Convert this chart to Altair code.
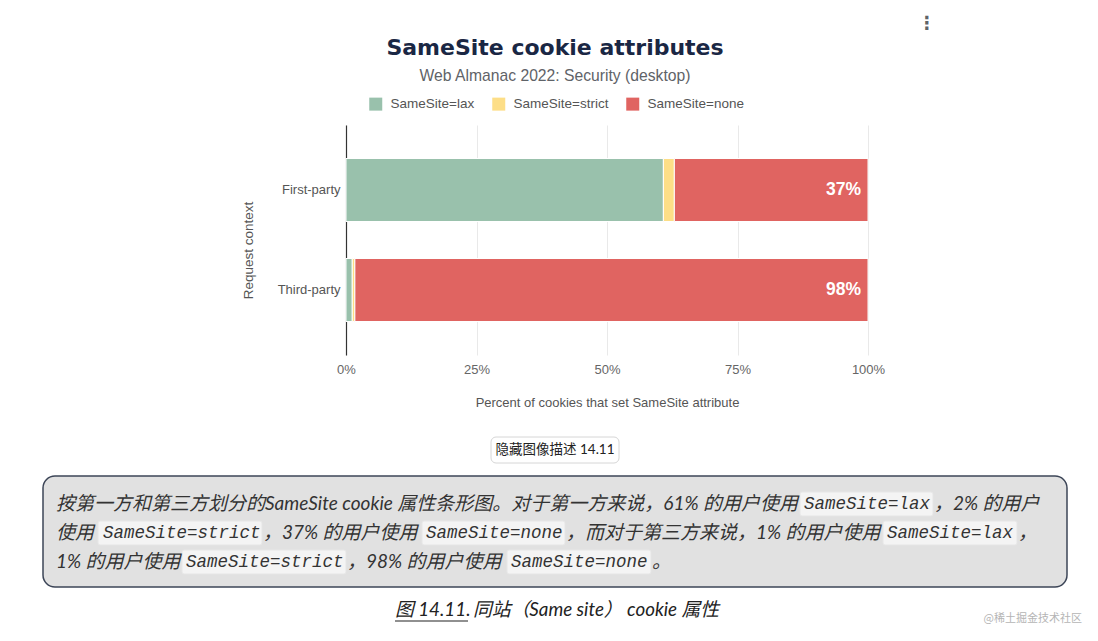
import altair as alt
import pandas as pd

# ---------------- data ----------------
contexts = ["First-party", "Third-party"]
attributes = ["SameSite=lax", "SameSite=strict", "SameSite=none"]
lax = [60.8, 1.2]
strict = [2.1, 0.5]
none = [37.1, 98.3]
bar_labels = ["37%", "98%"]
colors = ["#99C1AC", "#FDDE87", "#E06461"]
x_ticks = [0, 25, 50, 75, 100]

title_text = "SameSite cookie attributes"
subtitle_text = "Web Almanac 2022: Security (desktop)"
x_title = "Percent of cookies that set SameSite attribute"
y_title = "Request context"
button_text = "隐藏图像描述 14.11"
caption_num = "图 14.11."
caption_text = "同站（Same site） cookie 属性"
watermark = "@稀土掘金技术社区"

rows = []
for i, c in enumerate(contexts):
    for j, (a, vals) in enumerate(zip(attributes, [lax, strict, none])):
        rows.append({"context": c, "attribute": a, "value": vals[i], "order": j})
df = pd.DataFrame(rows)
lab_df = pd.DataFrame({
    "context": contexts,
    "end": [lax[i] + strict[i] + none[i] for i in range(len(contexts))],
    "label": bar_labels,
})

# ---------------- layout helpers ----------------
OX, OY = 346, 125  # page position of plot origin
W, H = 522, 230
SANS = "Liberation Sans"
DESC_FONT = "Lato, 'Noto Sans CJK SC'"
MONO = "Liberation Mono"


def txt(s, px, py, **kw):
    return alt.Chart(pd.DataFrame({"t": [s]})).mark_text(**kw).encode(
        x=alt.value(px - OX), y=alt.value(py - OY), text="t:N"
    )


def box(x1, y1, x2, y2, **kw):
    return alt.Chart(pd.DataFrame({"t": [0]})).mark_rect(**kw).encode(
        x=alt.value(x1 - OX), x2=alt.value(x2 - OX),
        y=alt.value(y1 - OY), y2=alt.value(y2 - OY)
    )


# ---------------- main bars ----------------
x_axis = alt.Axis(values=x_ticks, labelExpr="datum.value + '%'", grid=True,
                  gridColor="#e9e9e9", domain=False, ticks=False, labelFlush=False,
                  labelPadding=8, labelFontSize=13, labelColor="#666", labelFont=SANS,
                  titleFont=SANS, titleFontSize=13, titleFontWeight="normal",
                  titleColor="#555", titlePadding=20)
y_axis = alt.Axis(domain=True, domainColor="#333", domainWidth=1.2, ticks=False,
                  labelPadding=6, labelFontSize=13, labelColor="#555", labelFont=SANS,
                  titleFont=SANS, titleFontSize=13.5, titleFontWeight="normal",
                  titleColor="#555", titlePadding=22, titleY=125, grid=False)
x_scale = alt.Scale(domain=[0, 100], nice=False)
y_scale = alt.Scale(paddingInner=0.37, paddingOuter=0.335)

bars = alt.Chart(df).mark_bar(stroke="white", strokeWidth=1).encode(
    x=alt.X("value:Q", stack="zero", scale=x_scale, axis=x_axis, title=x_title),
    y=alt.Y("context:N", sort=contexts, scale=y_scale, axis=y_axis, title=y_title),
    color=alt.Color("attribute:N",
                    scale=alt.Scale(domain=attributes, range=colors),
                    legend=alt.Legend(orient="none", legendX=23, legendY=-28,
                                      direction="horizontal", title=None,
                                      symbolType="square", symbolSize=169,
                                      symbolStrokeWidth=0, labelFontSize=13.5,
                                      labelColor="#555", labelFont=SANS,
                                      labelOffset=8, columnPadding=17, padding=0)),
    order=alt.Order("order:Q"),
)

labels = alt.Chart(lab_df).mark_text(
    align="right", dx=-7, color="white", fontWeight="bold", fontSize=17.5,
    font=SANS, baseline="middle"
).encode(
    x=alt.X("end:Q", scale=x_scale, title=x_title),
    y=alt.Y("context:N", sort=contexts, title=y_title),
    text="label:N",
)

# ---------------- page decorations ----------------
layers = [bars, labels]
layers.append(txt(title_text, 555, 55, font="DejaVu Sans", fontWeight="bold",
                  fontSize=22, color="#1a2744", align="center", baseline="alphabetic"))
layers.append(txt(subtitle_text, 555, 81, font=SANS, fontSize=15.7, color="#5f6368",
                  align="center", baseline="alphabetic"))
layers.append(txt("⋮", 927, 24, font="DejaVu Sans", fontWeight="bold", fontSize=18,
                  color="#5f6368", align="center", baseline="middle"))

# button
layers.append(box(491, 437, 619, 463, fill="white", stroke="#d6d6d6", strokeWidth=1,
                  cornerRadius=5))
layers.append(txt(button_text, 555, 450, font=DESC_FONT, fontSize=13.5, color="#222",
                  align="center", baseline="middle"))

# description box
layers.append(box(43, 476, 1067, 587, fill="#e1e1e1", stroke="#3c4557", strokeWidth=1.5,
                  cornerRadius=12))

code_style = dict(fill="#f4f4f4", stroke="#e6e6e6", strokeWidth=1, cornerRadius=2)
desc_style = dict(font=DESC_FONT, fontStyle="italic", fontSize=19, color="#333",
                  align="left", baseline="middle")
mono_style = dict(font=MONO, fontStyle="italic", fontSize=17.5, color="#333",
                  align="left", baseline="middle")

L1, L2, L3 = 504, 533, 562
code_boxes = [
    (800, 933, L1), (98, 262, L2), (422, 565, L2), (883, 1017, L2),
    (182, 346, L3), (507, 651, L3),
]
for x1, x2, yc in code_boxes:
    layers.append(box(x1, yc - 12, x2, yc + 12, **code_style))

segments = [
    ("按第一方和第三方划分的SameSite cookie 属性条形图。对于第一方来说，61% 的用户使用", 56, L1, False),
    ("SameSite=lax", 804, L1, True),
    ("，2% 的用户", 934, L1, False),
    ("使用", 56, L2, False),
    ("SameSite=strict", 103, L2, True),
    ("，37% 的用户使用", 263, L2, False),
    ("SameSite=none", 426, L2, True),
    ("，而对于第三方来说，1% 的用户使用", 566, L2, False),
    ("SameSite=lax", 887, L2, True),
    ("，", 1018, L2, False),
    ("1% 的用户使用", 56, L3, False),
    ("SameSite=strict", 186, L3, True),
    ("，98% 的用户使用", 347, L3, False),
    ("SameSite=none", 511, L3, True),
    ("。", 652, L3, False),
]
for s, px, py, is_code in segments:
    layers.append(txt(s, px, py, **(mono_style if is_code else desc_style)))

# caption
cap_style = dict(font=DESC_FONT, fontStyle="italic", fontSize=18.8, color="#222",
                 align="left", baseline="middle")
layers.append(txt(caption_num, 395, 610, **cap_style))
layers.append(txt(caption_text, 473, 610, **cap_style))
layers.append(alt.Chart(pd.DataFrame({"t": [0]})).mark_rule(color="#222", strokeWidth=1.2).encode(
    x=alt.value(395 - OX), x2=alt.value(468 - OX), y=alt.value(621 - OY)))

# watermark
layers.append(txt(watermark, 1082, 619, font="Noto Sans CJK SC", fontSize=11,
                  color="#b5b5b5", align="right", baseline="middle"))

TOTAL_W, TOTAL_H = 1080, 620
chart = alt.layer(*layers).properties(
    width=W, height=H,
    autosize=alt.AutoSizeParams(type="none"),
    padding={"left": OX - 8, "top": OY - 8,
             "right": TOTAL_W - (OX - 8) - W, "bottom": TOTAL_H - (OY - 8) - H},
    background="white",
).configure_view(strokeWidth=0)

chart.save("out.html", embed_options={"renderer": "svg", "actions": False})
